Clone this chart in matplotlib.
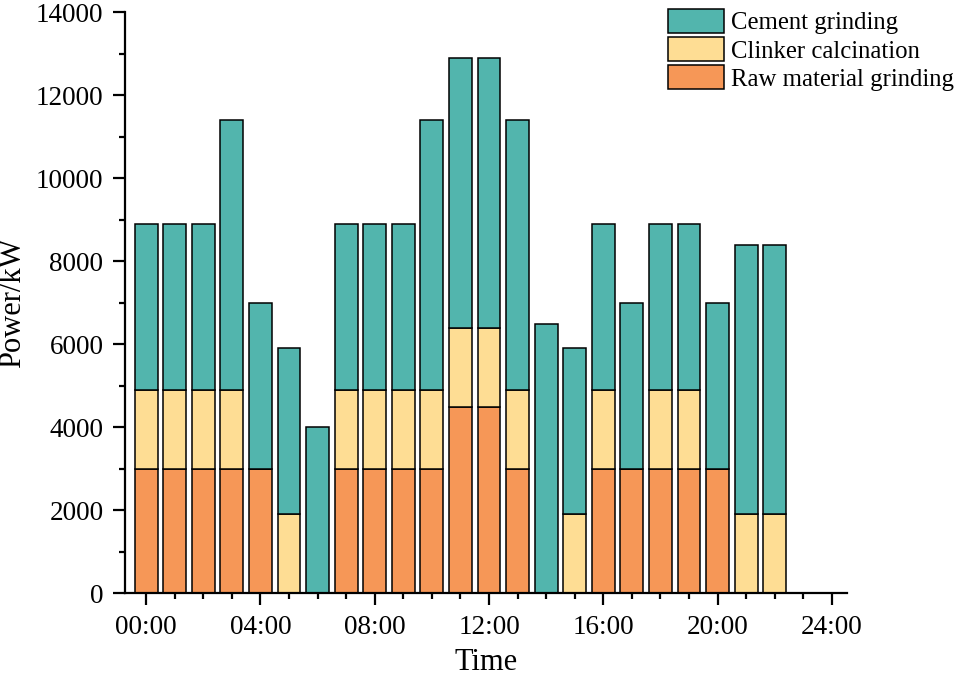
import numpy as np
import matplotlib
matplotlib.use("Agg")
import matplotlib.pyplot as plt
from matplotlib.ticker import MultipleLocator

# %% Data (kW per hour, 00:00 .. 22:00)

hours = np.arange(23)
raw_grinding = [3000, 3000, 3000, 3000, 3000, 0, 0, 3000, 3000, 3000, 3000, 4500,
                4500, 3000, 0, 0, 3000, 3000, 3000, 3000, 3000, 0, 0]
clinker_calc = [1900, 1900, 1900, 1900, 0, 1900, 0, 1900, 1900, 1900, 1900, 1900,
                1900, 1900, 0, 1900, 1900, 0, 1900, 1900, 0, 1900, 1900]
cement_grinding = [4000, 4000, 4000, 6500, 4000, 4000, 4000, 4000, 4000, 4000, 6500, 6500,
                   6500, 6500, 6500, 4000, 4000, 4000, 4000, 4000, 4000, 6500, 6500]
tick_hours = [0, 4, 8, 12, 16, 20, 24]
tick_labels = ["00:00", "04:00", "08:00", "12:00", "16:00", "20:00", "24:00"]

c_raw = "#F69757"
c_clinker = "#FEDD94"
c_cement = "#52B5AD"

plt.rcParams["font.family"] = ["Liberation Serif", "DejaVu Serif"]

# %% Plot

fig = plt.figure(figsize=(9.55, 6.77), dpi=100)
ax = fig.add_axes([0.1309, 0.1236, 0.8866 - 0.1309, 0.9818 - 0.1236])

w = 0.8
raw = np.array(raw_grinding)
clk = np.array(clinker_calc)
cem = np.array(cement_grinding)
ekw = dict(width=w, edgecolor="black", linewidth=1.1)
b_raw = ax.bar(hours, raw, color=c_raw, **ekw)
b_clk = ax.bar(hours, clk, bottom=raw, color=c_clinker, **ekw)
b_cem = ax.bar(hours, cem, bottom=raw + clk, color=c_cement, **ekw)

ax.set_xlim(-0.74, 24.52)
ax.set_ylim(0, 14000)
ax.set_xticks(tick_hours)
ax.set_xticklabels(tick_labels)
ax.xaxis.set_minor_locator(MultipleLocator(1))
ax.yaxis.set_major_locator(MultipleLocator(2000))
ax.yaxis.set_minor_locator(MultipleLocator(1000))

for side in ["top", "right"]:
    ax.spines[side].set_visible(False)
for side in ["left", "bottom"]:
    ax.spines[side].set_linewidth(1.6)

ax.tick_params(which="major", direction="out", length=8.5, width=1.6,
               labelsize=19.5, pad=7)
ax.tick_params(which="minor", direction="out", length=4.5, width=1.6)

ax.set_xlabel("Time", fontsize=22, labelpad=6)
ax.set_ylabel("Power/kW", fontsize=22, labelpad=6)

ax.legend([b_cem, b_clk, b_raw],
          ["Cement grinding", "Clinker calcination", "Raw material grinding"],
          loc="upper left", bbox_to_anchor=(0.6995, 0.9867),
          bbox_transform=fig.transFigure, frameon=False, fontsize=17.8,
          borderpad=0, borderaxespad=0, handlelength=2.25, handleheight=1.1,
          labelspacing=0.12, handletextpad=0.3)

fig.savefig("out.png", dpi=100)
